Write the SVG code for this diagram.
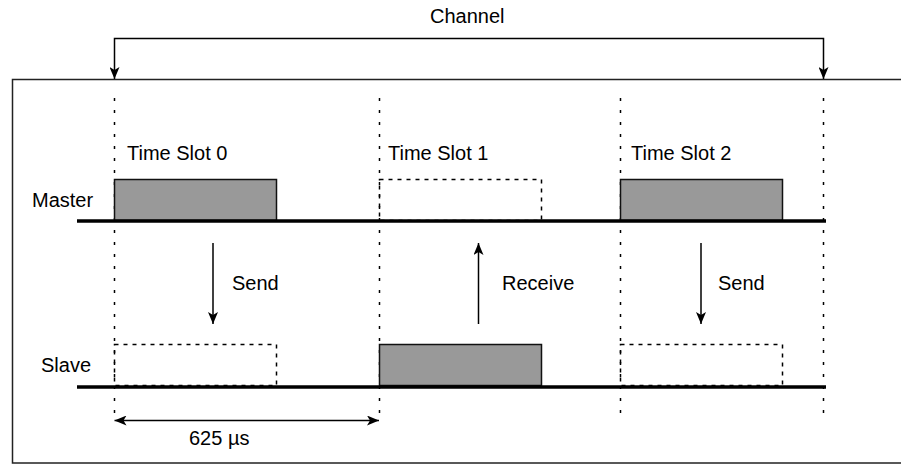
<svg xmlns="http://www.w3.org/2000/svg" width="901" height="464" viewBox="0 0 901 464">
  <style>
    text { font-family: "Liberation Sans", Arial, sans-serif; font-size: 20px; fill: #000; }
    .frame { fill: none; stroke: #222; stroke-width: 1.5; }
    .guide { fill: none; stroke: #000; stroke-width: 1.5; stroke-dasharray: 3 9; }
    .bus { fill: none; stroke: #000; stroke-width: 3.5; }
    .busy { fill: #999999; stroke: #111; stroke-width: 1.5; }
    .idle { fill: none; stroke: #000; stroke-width: 1.5; stroke-dasharray: 4 5; }
    .wire { fill: none; stroke: #000; stroke-width: 1.5; }
  </style>
  <defs>
    <marker id="head" viewBox="0 0 12 10" refX="12" refY="5" markerWidth="12" markerHeight="10" markerUnits="userSpaceOnUse" orient="auto">
      <path d="M0,0 L12,5 L0,10 L3,5 Z" fill="#000"/>
    </marker>
    <marker id="tail" viewBox="0 0 12 10" refX="0" refY="5" markerWidth="12" markerHeight="10" markerUnits="userSpaceOnUse" orient="auto">
      <path d="M12,0 L0,5 L12,10 L9,5 Z" fill="#000"/>
    </marker>
  </defs>

  <!-- outer frame -->
  <rect id="frame" class="frame" x="12.5" y="79.5" width="900" height="383.5"/>

  <!-- slot boundaries -->
  <g id="guides">
    <line class="guide" x1="114.5" y1="98" x2="114.5" y2="421"/>
    <line class="guide" x1="379.5" y1="98" x2="379.5" y2="421"/>
    <line class="guide" x1="620.5" y1="98" x2="620.5" y2="421"/>
    <line class="guide" x1="823.5" y1="98" x2="823.5" y2="421"/>
  </g>

  <!-- master timeline -->
  <g id="master">
    <text x="32" y="207">Master</text>
    <rect class="busy" x="114.5" y="179.5" width="162" height="41"/>
    <rect class="idle" x="379.5" y="179.5" width="162" height="41"/>
    <rect class="busy" x="620.5" y="179.5" width="162" height="41"/>
    <line class="bus" x1="77" y1="221" x2="826" y2="221"/>
  </g>

  <!-- slave timeline -->
  <g id="slave">
    <text x="41" y="372">Slave</text>
    <rect class="idle" x="114.5" y="344.5" width="162" height="41"/>
    <rect class="busy" x="379.5" y="344.5" width="162" height="41"/>
    <rect class="idle" x="620.5" y="344.5" width="162" height="41"/>
    <line class="bus" x1="77" y1="387" x2="826" y2="387"/>
  </g>

  <!-- slot labels -->
  <g id="slot0"><text x="127" y="160">Time Slot 0</text></g>
  <g id="slot1"><text x="388" y="160">Time Slot 1</text></g>
  <g id="slot2"><text x="631" y="160">Time Slot 2</text></g>

  <!-- direction and span connectors -->
  <g id="connectors">
    <path class="wire" d="M114.5,79 L114.5,38.5 L823.5,38.5 L823.5,79" marker-start="url(#tail)" marker-end="url(#head)"/>
    <line class="wire" x1="213" y1="243" x2="213" y2="324" marker-end="url(#head)"/>
    <line class="wire" x1="478.5" y1="324" x2="478.5" y2="243" marker-end="url(#head)"/>
    <line class="wire" x1="701" y1="243" x2="701" y2="324" marker-end="url(#head)"/>
    <line class="wire" x1="114.5" y1="420.5" x2="379" y2="420.5" marker-start="url(#tail)" marker-end="url(#head)"/>
  </g>

  <g id="labels">
    <text x="430" y="23">Channel</text>
    <text x="232" y="290">Send</text>
    <text x="502" y="290">Receive</text>
    <text x="718" y="290">Send</text>
    <text x="189" y="445">625 µs</text>
  </g>
</svg>
